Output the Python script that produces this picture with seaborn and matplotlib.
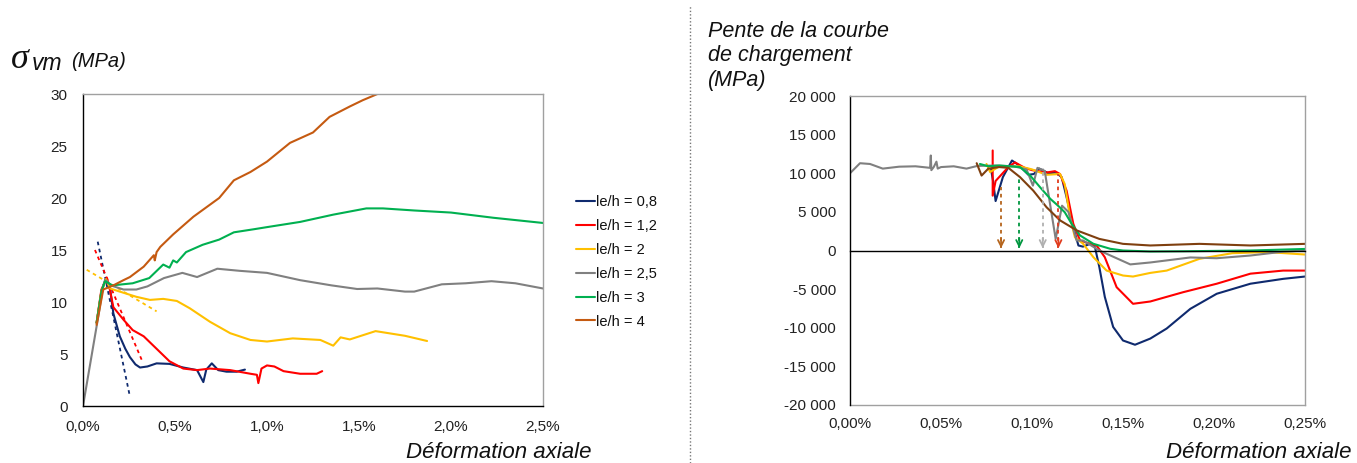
import matplotlib
matplotlib.use("Agg")
import matplotlib.pyplot as plt
import seaborn as sns
import pandas as pd
from matplotlib.ticker import FuncFormatter
from matplotlib.lines import Line2D

# ---- left chart : sigma_vm (MPa) vs axial strain (%)
series = ["le/h = 0,8", "le/h = 1,2", "le/h = 2", "le/h = 2,5", "le/h = 3", "le/h = 4"]

x_08 = [0.074, 0.10, 0.12, 0.147, 0.165, 0.20, 0.23, 0.255, 0.285, 0.31, 0.35, 0.40, 0.47, 0.545, 0.62, 0.654, 0.67, 0.70, 0.735, 0.78, 0.835, 0.88]
y_08 = [8.0, 11.0, 12.1, 11.3, 8.9, 6.7, 5.5, 4.7, 4.0, 3.7, 3.8, 4.1, 4.05, 3.7, 3.45, 2.3, 3.5, 4.1, 3.45, 3.3, 3.3, 3.5]

x_12 = [0.074, 0.10, 0.13, 0.14, 0.165, 0.22, 0.27, 0.33, 0.40, 0.47, 0.545, 0.62, 0.69, 0.80, 0.91, 0.945, 0.953, 0.97, 1.0, 1.04, 1.09, 1.18, 1.27, 1.30]
y_12 = [8.0, 11.2, 12.3, 11.7, 9.5, 8.3, 7.3, 6.7, 5.5, 4.3, 3.6, 3.45, 3.6, 3.45, 3.1, 3.0, 2.2, 3.6, 3.9, 3.8, 3.35, 3.1, 3.1, 3.35]

x_2 = [0.074, 0.10, 0.125, 0.147, 0.20, 0.29, 0.364, 0.436, 0.51, 0.58, 0.69, 0.80, 0.91, 1.0, 1.14, 1.29, 1.36, 1.40, 1.45, 1.59, 1.75, 1.87]
y_2 = [8.0, 11.0, 12.2, 11.3, 11.0, 10.5, 10.2, 10.3, 10.1, 9.4, 8.1, 7.0, 6.35, 6.2, 6.5, 6.35, 5.8, 6.6, 6.4, 7.2, 6.75, 6.25]

x_25 = [0, 0.083, 0.11, 0.125, 0.15, 0.22, 0.29, 0.35, 0.44, 0.54, 0.62, 0.73, 0.85, 1.0, 1.18, 1.35, 1.49, 1.6, 1.75, 1.8, 1.95, 2.08, 2.22, 2.35, 2.5]
y_25 = [0, 8.6, 11.6, 12.1, 11.6, 11.2, 11.2, 11.5, 12.3, 12.8, 12.4, 13.2, 13.0, 12.8, 12.1, 11.6, 11.25, 11.3, 11.0, 11.0, 11.7, 11.8, 12.0, 11.8, 11.3]

x_3 = [0.074, 0.10, 0.12, 0.16, 0.27, 0.36, 0.436, 0.47, 0.49, 0.51, 0.56, 0.65, 0.74, 0.82, 0.93, 1.0, 1.18, 1.36, 1.54, 1.63, 1.8, 2.0, 2.23, 2.5]
y_3 = [8.0, 11.0, 12.0, 11.6, 11.8, 12.3, 13.6, 13.3, 14.0, 13.8, 14.8, 15.5, 16.0, 16.7, 17.0, 17.2, 17.7, 18.4, 19.0, 19.0, 18.8, 18.6, 18.1, 17.6]

x_4 = [0.074, 0.11, 0.165, 0.22, 0.255, 0.33, 0.37, 0.385, 0.39, 0.40, 0.42, 0.49, 0.60, 0.67, 0.74, 0.82, 0.91, 1.0, 1.125, 1.25, 1.34, 1.45, 1.52, 1.60]
y_4 = [7.8, 11.2, 11.6, 12.1, 12.4, 13.4, 14.2, 14.5, 14.0, 14.8, 15.3, 16.5, 18.2, 19.1, 20.0, 21.7, 22.5, 23.5, 25.3, 26.3, 27.8, 28.8, 29.4, 30.0]

# dotted tangents (start / end) for 0,8 - 1,2 - 2
tan_x = [[0.08, 0.255], [0.065, 0.32], [0.02, 0.40]]
tan_y = [[15.8, 0.9], [15.0, 4.4], [13.1, 9.1]]

# ---- right chart : slope of loading curve (MPa) vs axial strain (%)
rx_08 = [0.0775, 0.0786, 0.080, 0.084, 0.089, 0.093, 0.098, 0.101, 0.104, 0.109, 0.113, 0.1163, 0.119, 0.1227, 0.1255, 0.128, 0.132, 0.1346, 0.137, 0.14, 0.1446, 0.15, 0.1566, 0.165, 0.174, 0.187, 0.2015, 0.22, 0.238, 0.25]
ry_08 = [10500, 9000, 6400, 9500, 11650, 11000, 9800, 9900, 10600, 10000, 10100, 9500, 6900, 3000, 650, 500, 870, 430, -2150, -6000, -9900, -11650, -12200, -11400, -10100, -7550, -5600, -4300, -3670, -3370]

rx_12 = [0.0784, 0.0784, 0.080, 0.087, 0.0907, 0.096, 0.1, 0.108, 0.1126, 0.1154, 0.119, 0.1227, 0.1264, 0.1308, 0.1355, 0.14, 0.1465, 0.1555, 0.165, 0.183, 0.2015, 0.22, 0.238, 0.25]
ry_12 = [12950, 7100, 9000, 10800, 11400, 10700, 10400, 10100, 10270, 9900, 7750, 3450, 1300, 950, 650, -870, -4750, -6900, -6600, -5400, -4300, -3000, -2600, -2600]

rx_2 = [0.075, 0.077, 0.082, 0.093, 0.1, 0.108, 0.1154, 0.118, 0.1209, 0.1236, 0.128, 0.1337, 0.141, 0.15, 0.1555, 0.165, 0.174, 0.192, 0.21, 0.229, 0.25]
ry_2 = [11200, 10150, 10900, 10900, 10500, 9800, 9900, 8600, 4300, 1700, 900, -860, -2600, -3240, -3370, -2900, -2600, -1080, -350, -200, -520]

rx_25 = [0, 0.0055, 0.011, 0.018, 0.027, 0.036, 0.044, 0.0444, 0.0447, 0.046, 0.0475, 0.0482, 0.050, 0.057, 0.064, 0.07, 0.08, 0.09, 0.097, 0.1005, 0.103, 0.107, 0.113, 0.1165, 0.12, 0.1245, 0.128, 0.137, 0.154, 0.165, 0.187, 0.2015, 0.22, 0.238, 0.25]
ry_25 = [10000, 11300, 11200, 10600, 10850, 10900, 10700, 12300, 10400, 10800, 11500, 10600, 10800, 10900, 10600, 10950, 11000, 10900, 10500, 8400, 10700, 10300, 1500, 5800, 5000, 1300, 1300, 0, -1800, -1550, -900, -1000, -650, -150, 0]

rx_3 = [0.0714, 0.076, 0.082, 0.0934, 0.099, 0.1044, 0.11, 0.1143, 0.118, 0.1218, 0.1264, 0.1337, 0.143, 0.15, 0.165, 0.183, 0.22, 0.25]
ry_3 = [11200, 10900, 11000, 10800, 9700, 8200, 6700, 5800, 4950, 3450, 1950, 870, 220, 0, -130, -100, 0, 200]

rx_4 = [0.0696, 0.0723, 0.076, 0.082, 0.087, 0.0934, 0.1007, 0.108, 0.1154, 0.1246, 0.137, 0.15, 0.165, 0.192, 0.22, 0.25]
ry_4 = [11300, 9700, 10600, 10800, 10700, 9500, 7750, 5600, 3900, 2600, 1500, 860, 650, 860, 650, 860]

# dotted arrows down to zero
arrow_x = [0.083, 0.093, 0.1059, 0.1145]
arrow_y = [8200, 9300, 10700, 9900]
arrow_c = ["#b5651d", "#00963f", "#b0b0b0", "#e03c1e"]

left_colors = ["#0f2a6e", "#ff0000", "#ffc000", "#808080", "#00b050", "#c55a11"]
right_colors = ["#0f2a6e", "#ff0000", "#ffc000", "#808080", "#00b050", "#7f3f0f"]
frame_grey = "#a0a0a0"


def long_df(xs, ys):
    parts = [pd.DataFrame({"x": x, "y": y, "serie": s}) for x, y, s in zip(xs, ys, series)]
    return pd.concat(parts, ignore_index=True)


df_l = long_df([x_08, x_12, x_2, x_25, x_3, x_4], [y_08, y_12, y_2, y_25, y_3, y_4])
df_r = long_df([rx_08, rx_12, rx_2, rx_25, rx_3, rx_4], [ry_08, ry_12, ry_2, ry_25, ry_3, ry_4])

sns.set_theme(style="white")
plt.rcParams["font.family"] = ["Liberation Sans", "DejaVu Sans"]
plt.rcParams["text.color"] = "#111111"

fig = plt.figure(figsize=(13.57, 4.63), dpi=100)
ax1 = fig.add_axes([83 / 1357, 1 - 406 / 463, 460 / 1357, 312 / 463])
ax2 = fig.add_axes([850 / 1357, 1 - 405 / 463, 455 / 1357, 309 / 463])

# ---- left
for tx, ty, c in zip(tan_x, tan_y, left_colors[:3]):
    ax1.plot(tx, ty, ls=(0, (2, 2)), color=c, lw=1.3)
sns.lineplot(data=df_l, x="x", y="y", hue="serie", hue_order=series, palette=left_colors,
             sort=False, estimator=None, lw=1.5, ax=ax1)
ax1.set_xlim(0, 2.5)
ax1.set_ylim(0, 30)
ax1.set_xticks([0, 0.5, 1.0, 1.5, 2.0, 2.5])
ax1.set_yticks(range(0, 31, 5))
ax1.xaxis.set_major_formatter(FuncFormatter(lambda v, p: f"{v:.1f}%".replace(".", ",")))
ax1.set_xlabel("")
ax1.set_ylabel("")
ax1.tick_params(axis="both", direction="out", length=5, width=1, color="black",
                labelsize=11, labelcolor="#222222")
ax1.tick_params(axis="x", pad=5)
ax1.tick_params(axis="y", pad=6)
for side in ["left", "bottom"]:
    ax1.spines[side].set_color("black")
for side in ["top", "right"]:
    ax1.spines[side].set_color(frame_grey)
for sp in ax1.spines.values():
    sp.set_linewidth(1)

handles, labels = ax1.get_legend_handles_labels()
ax1.legend(handles, labels, loc="upper left", bbox_to_anchor=(576 / 1357, 1 - 195 / 463),
           bbox_transform=fig.transFigure, frameon=False, fontsize=10.5, handlelength=1.3,
           handletextpad=0.1, labelspacing=0.68, borderpad=0, borderaxespad=0)

# ---- right
sns.lineplot(data=df_r, x="x", y="y", hue="serie", hue_order=series, palette=right_colors,
             sort=False, estimator=None, lw=1.5, ax=ax2, legend=False)
ax2.vlines(arrow_x, 300, arrow_y, colors=arrow_c, linestyles=(0, (2, 2)), lw=1.3)
for ax_, ay_, ac_ in zip(arrow_x, arrow_y, arrow_c):
    ax2.annotate("", xy=(ax_, 300), xytext=(ax_, 1600),
                 arrowprops=dict(arrowstyle="->", color=ac_, lw=1.3, mutation_scale=11,
                                 shrinkA=0, shrinkB=0))
ax2.set_xlim(0, 0.25)
ax2.set_ylim(-20000, 20000)
xt = [0, 0.05, 0.10, 0.15, 0.20, 0.25]
ax2.set_xticks(xt)
ax2.set_yticks(range(-20000, 20001, 5000))
ax2.yaxis.set_major_formatter(FuncFormatter(lambda v, p: f"{int(v):,}".replace(",", " ")))
ax2.set_xlabel("")
ax2.set_ylabel("")
ax2.spines["bottom"].set_position(("data", 0))
ax2.spines["bottom"].set_color("black")
ax2.spines["left"].set_color("black")
for side in ["top", "right"]:
    ax2.spines[side].set_color(frame_grey)
for sp in ax2.spines.values():
    sp.set_linewidth(1)
ax2.tick_params(axis="x", direction="out", length=4, width=1, color="black", labelbottom=False)
ax2.tick_params(axis="y", direction="out", length=5, width=1, color="black", labelsize=11,
                labelcolor="#222222", pad=5)
sec = ax2.secondary_xaxis("bottom")
sec.set_xticks(xt)
sec.xaxis.set_major_formatter(FuncFormatter(lambda v, p: f"{v:.2f}%".replace(".", ",")))
sec.tick_params(length=0, labelsize=11, labelcolor="#222222", pad=9)
sec.spines["bottom"].set_color(frame_grey)
sec.spines["bottom"].set_linewidth(1)

# ---- texts
fig.text(11 / 1357, 1 - 68 / 463, "σ", fontsize=26, style="italic",
         family=["Liberation Serif", "DejaVu Serif"], va="baseline")
fig.text(32 / 1357, 1 - 70 / 463, "vm", fontsize=16.5, style="italic", va="baseline")
fig.text(71 / 1357, 1 - 67 / 463, "(MPa)", fontsize=14.5, style="italic", va="baseline")
fig.text(592 / 1357, 1 - 458 / 463, "Déformation axiale", fontsize=16, style="italic",
         ha="right", va="baseline")
fig.text(1352 / 1357, 1 - 458 / 463, "Déformation axiale", fontsize=16, style="italic",
         ha="right", va="baseline")
for line, base in zip(["Pente de la courbe", "de chargement", "(MPa)"], [37, 61, 86]):
    fig.text(708 / 1357, 1 - base / 463, line, fontsize=15.5, style="italic", va="baseline")

fig.add_artist(Line2D([690 / 1357, 690 / 1357], [0, 0.99], transform=fig.transFigure,
                      color="#777777", lw=1, ls=(0, (1, 1.5))))

fig.savefig("out.png", dpi=100)
